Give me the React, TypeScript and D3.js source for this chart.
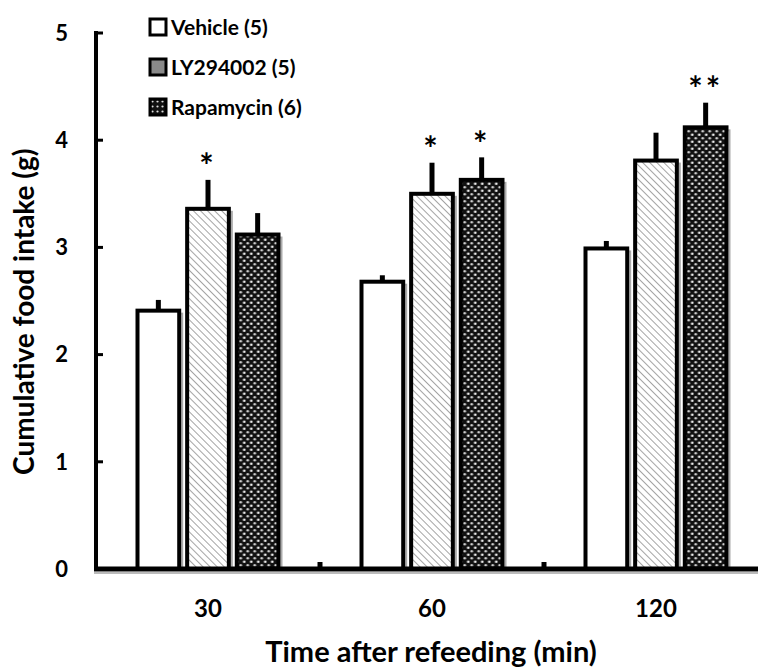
import * as d3 from "d3";

const categories = ["30", "60", "120"];
const series = ["Vehicle", "LY294002", "Rapamycin"];
const legendLabels = ["Vehicle (5)", "LY294002 (5)", "Rapamycin (6)"];
const means = [
  [2.41, 3.36, 3.12],
  [2.68, 3.5, 3.63],
  [2.99, 3.81, 4.12],
];
const sems = [
  [0.1, 0.27, 0.2],
  [0.06, 0.29, 0.21],
  [0.07, 0.26, 0.23],
];
// significance marks per [category][series]
const stars = [
  ["", "*", ""],
  ["", "*", "*"],
  ["", "", "**"],
];
const yTicks = [0, 1, 2, 3, 4, 5];

const W = 758;
const H = 669;
const FONT = "Lato, 'Open Sans', sans-serif";

export default function App() {
  const x0 = d3.scaleBand().domain(categories).range([96, 768]).paddingInner(0).paddingOuter(0);
  const inner = 141;
  const x1 = d3
    .scaleBand()
    .domain(series)
    .range([0, inner])
    .paddingInner(0.16);
  const y = d3.scaleLinear().domain([0, 5]).range([569, 33]);

  const fills = ["#ffffff", "url(#stripes)", "url(#dots)"];
  const legendFills = ["#ffffff", "#8a8a8a", "url(#dotsSmall)"];

  return (
    <svg
      width={W}
      height={H}
      style={{ position: "absolute", left: 0, top: 0, background: "#fff" }}
      fontFamily={FONT}
    >
      <defs>
        <pattern id="stripes" width="5" height="5" patternUnits="userSpaceOnUse" patternTransform="rotate(-45)">
          <rect width="5" height="5" fill="#fff" />
          <line x1="0" y1="0" x2="0" y2="5" stroke="#9a9a9a" strokeWidth="1.8" />
        </pattern>
        <pattern id="dots" width="7" height="7" patternUnits="userSpaceOnUse">
          <rect width="7" height="7" fill="#111" />
          <circle cx="1.75" cy="1.75" r="1.3" fill="#f2f2f2" />
          <circle cx="5.25" cy="5.25" r="1.3" fill="#cfcfcf" />
        </pattern>
        <pattern id="dotsSmall" width="5" height="5" patternUnits="userSpaceOnUse">
          <rect width="5" height="5" fill="#111" />
          <circle cx="2.5" cy="2.5" r="1.1" fill="#ddd" />
        </pattern>
      </defs>

      {/* bars */}
      {categories.map((c, ci) => {
        const gx = (x0(c) ?? 0) + (x0.bandwidth() - inner) / 2;
        return (
          <g key={c} transform={`translate(${gx},0)`}>
            {series.map((s, si) => {
              const bx = x1(s) ?? 0;
              const bw = x1.bandwidth();
              const top = y(means[ci][si]);
              const errTop = y(means[ci][si] + sems[ci][si]);
              const cx = bx + bw / 2;
              return (
                <g key={s}>
                  <line x1={cx} x2={cx} y1={top} y2={errTop} stroke="#000" strokeWidth={5} />
                  <rect
                    x={bx + 3}
                    y={top + 3}
                    width={bw}
                    height={y(0) - top - 3}
                    fill="none"
                    stroke="#aaa"
                    strokeWidth={2}
                  />
                  <rect
                    x={bx}
                    y={top}
                    width={bw}
                    height={y(0) - top}
                    fill={fills[si]}
                    stroke="#000"
                    strokeWidth={4}
                  />
                  {stars[ci][si] && (
                    <text
                      x={cx}
                      y={errTop - 22}
                      textAnchor="middle"
                      fontSize={34}
                      fontWeight={700}
                      letterSpacing={3}
                      dy="0.6em"
                    >
                      {stars[ci][si]}
                    </text>
                  )}
                </g>
              );
            })}
          </g>
        );
      })}

      {/* y axis */}
      <line x1={96} x2={96} y1={y(5) - 2} y2={y(0) + 2} stroke="#000" strokeWidth={4} />
      {yTicks.map((t) => (
        <g key={t}>
          {t > 0 && <line x1={96} x2={103} y1={y(t)} y2={y(t)} stroke="#000" strokeWidth={3} />}
          <text
            x={68}
            y={y(t)}
            dy="0.35em"
            textAnchor="end"
            fontSize={22}
            fontWeight={700}
          >
            {t}
          </text>
        </g>
      ))}

      {/* x axis */}
      <line x1={94} x2={758} y1={y(0)} y2={y(0)} stroke="#000" strokeWidth={5} />
      <line x1={94} x2={758} y1={y(0) + 4} y2={y(0) + 4} stroke="#bbb" strokeWidth={2} />
      {categories.slice(1).map((c) => (
        <line
          key={c}
          x1={x0(c) ?? 0}
          x2={x0(c) ?? 0}
          y1={y(0)}
          y2={y(0) - 7}
          stroke="#000"
          strokeWidth={5}
        />
      ))}
      {categories.map((c) => (
        <text
          key={c}
          x={(x0(c) ?? 0) + x0.bandwidth() / 2}
          y={617}
          textAnchor="middle"
          fontSize={24}
          fontWeight={700}
        >
          {c}
        </text>
      ))}

      {/* axis titles */}
      <text x={431} y={662} textAnchor="middle" fontSize={29} fontWeight={700}>
        Time after refeeding (min)
      </text>
      <text
        transform={`translate(34,${y(2.4)}) rotate(-90)`}
        textAnchor="middle"
        fontSize={28}
        fontWeight={700}
      >
        Cumulative food intake (g)
      </text>

      {/* legend */}
      {legendLabels.map((l, i) => (
        <g key={l} transform={`translate(150,${19 + i * 40})`}>
          <rect x={0} y={0} width={16} height={16} fill={legendFills[i]} stroke="#000" strokeWidth={3} />
          <text x={21} y={8} dy="0.36em" fontSize={21} fontWeight={700}>
            {l}
          </text>
        </g>
      ))}
    </svg>
  );
}
